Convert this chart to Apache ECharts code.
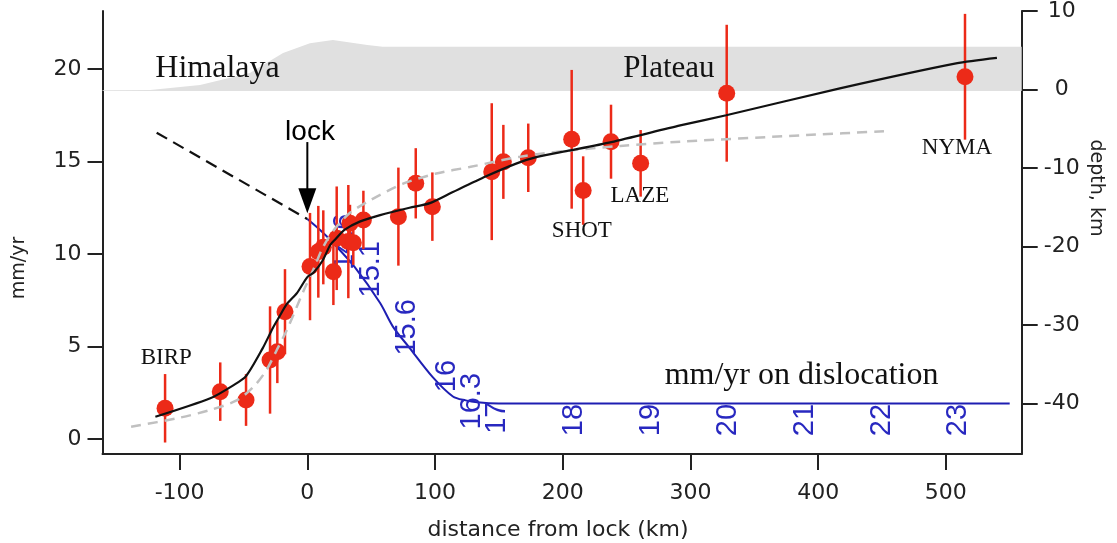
<!DOCTYPE html>
<html><head><meta charset="utf-8">
<script src="https://cdn.jsdelivr.net/npm/echarts@6/dist/echarts.min.js"></script>
<style>html,body{margin:0;padding:0;background:#fff}#c{width:1117px;height:543px}</style>
</head><body><div id="c"></div>
<script>
// ---- tick labels ----
const xTicks = [-100, 0, 100, 200, 300, 400, 500];
const leftTicks = [0, 5, 10, 15, 20];
const rightTicks = [-40, -30, -20, -10, 0, 10];

// ---- GPS velocities (mm/yr) with 1-sigma error ----
const gpsX   = [-111.4, -68.2, -48, -29.2, -23.5, -17.5, 2.1, 8.6, 12.5, 20.4, 23, 32.1, 36, 33.4, 43.9, 71.3, 84.9, 97.9, 144.4, 153.5, 173, 207, 216, 237.8, 261, 328.4, 515];
const gpsV   = [1.66, 2.56, 2.11, 4.27, 4.72, 6.88, 9.32, 10.12, 10.36, 9.04, 10.85, 10.67, 10.61, 11.66, 11.84, 12.02, 13.82, 12.56, 14.45, 14.98, 15.2, 16.2, 13.43, 16.07, 14.9, 18.69, 19.58];
const gpsErr = [1.85, 1.58, 1.4, 2.9, 1.7, 2.3, 2.9, 2.48, 2.0, 1.8, 2.8, 3.06, 1.2, 1.0, 1.58, 2.65, 1.9, 1.85, 3.7, 2.0, 1.85, 3.75, 1.85, 2.0, 1.8, 3.7, 3.4];

// ---- model curves (mm/yr) ----
const fitX = [-119, -76, -58, -48, -35, -27, -22, -16, -8, 0, 5, 12, 18, 22, 29, 41, 57, 80, 96, 114, 140, 164, 180, 206, 238, 292, 328, 417, 508, 540];
const fitV = [1.2, 2.2, 2.9, 3.4, 4.9, 6.0, 6.6, 7.3, 7.9, 8.75, 9.0, 9.65, 10.5, 10.8, 11.3, 11.75, 12.1, 12.5, 12.75, 13.35, 14.2, 14.9, 15.25, 15.6, 16.05, 16.95, 17.5, 18.95, 20.3, 20.6];
const altX = [-138, -102, -76, -55, -42, -32, -24, -16, -3, 5, 12.5, 22, 33, 49, 75, 101, 127, 166, 206, 245, 292, 391, 456];
const altV = [0.66, 1.12, 1.57, 2.1, 2.83, 3.73, 4.8, 5.9, 8.0, 9.2, 10.4, 11.4, 12.2, 12.9, 13.8, 14.35, 14.7, 15.25, 15.6, 15.84, 16.07, 16.43, 16.65];

// ---- fault geometry (depth, km) ----
const lockedX = [-118, 0];
const lockedDepth = [-5.5, -16.5];
const dislocX = [0, 10, 20, 37, 57, 67, 80, 98, 114, 124, 133, 150, 550];
const dislocDepth = [-16.5, -17.9, -19.5, -22.6, -27.2, -30.2, -32.9, -36.6, -39.1, -39.6, -39.85, -40, -40];

// ---- topography (km) ----
const topoX = [-160.4, -123, -84, -45, -19, 2, 20, 47, 59, 559.4];
const topoElev = [-0.1, -0.05, 0.57, 2.1, 4.65, 5.9, 6.3, 5.67, 5.45, 5.45];
const topoBase = -0.2;

// ---- slip-rate labels along dislocation ----
const rateLabels = ['14.6', '15.1', '15.6', '16', '16.3', '17', '18', '19', '20', '21', '22', '23'];
const rateLabelX = [29.8, 49.9, 78.1, 109.4, 129, 148.6, 208.8, 269, 329.3, 389.6, 449.9, 509.4];
const rateLabelDepth = [-19.4, -22.9, -30.3, -36.5, -39.7, -41.8, -42.1, -42.1, -42.1, -42.1, -42.1, -42.1];

// ---- site / annotation labels ----
const siteNames = ['BIRP', 'SHOT', 'LAZE', 'NYMA'];
const siteLabelX = [-110.5, 215, 260.4, 508.7];
const siteLabelV = [4.38, 11.24, 13.14, 15.73];
const regionNames = ['Himalaya', 'Plateau', 'mm/yr on dislocation'];
const regionLabelX = [-70.3, 283.2, 387];
const regionLabelDepth = [2.67, 2.67, -36.4];
const regionFontSize = [32, 31, 32];
const lockLabel = 'lock';
const lockLabelX = 2.1, lockLabelV = 16.6;
const arrowX = 0, arrowFrom = 16.05, arrowTo = 12.2;

const RED = '#ec2a18', BLUE = '#1e1eb2', AXIS = '#222';
const chart = echarts.init(document.getElementById('c'), null, {renderer: 'canvas'});

function textItem(p, txt, font, fill, rot) {
  return {type: 'text', x: p[0], y: p[1], rotation: rot || 0,
    style: {text: txt, font: font, fill: fill, align: 'center', verticalAlign: 'middle',
            textAlign: 'center', textVerticalAlign: 'middle'}};
}

const option = {
  animation: false,
  backgroundColor: '#fff',
  grid: {left: 102.5, right: 95.3, top: 11, bottom: 89, containLabel: false, outerBoundsMode: 'none'},
  xAxis: {
    type: 'value', min: -160.4, max: 559.4,
    axisLine: {show: true, onZero: false, lineStyle: {color: AXIS, width: 2}},
    axisTick: {show: true, length: 16, lineStyle: {color: AXIS, width: 2}, customValues: xTicks},
    axisLabel: {customValues: xTicks, fontSize: 22, fontFamily: 'DejaVu Sans', color: AXIS, margin: 28},
    splitLine: {show: false}
  },
  yAxis: [{
    type: 'value', min: -0.811, max: 23.135, position: 'left',
    axisLine: {show: true, onZero: false, lineStyle: {color: AXIS, width: 2}},
    axisTick: {show: true, length: 15, lineStyle: {color: AXIS, width: 2}, customValues: leftTicks},
    axisLabel: {customValues: leftTicks, fontSize: 22, fontFamily: 'DejaVu Sans', color: AXIS, margin: 21},
    splitLine: {show: false}
  }, {
    type: 'value', min: -46.43, max: 10.0, position: 'right',
    axisLine: {show: true, onZero: false, lineStyle: {color: AXIS, width: 2}},
    axisTick: {show: true, length: 16, lineStyle: {color: AXIS, width: 2}, customValues: rightTicks},
    axisLabel: {customValues: rightTicks, fontSize: 22, fontFamily: 'DejaVu Sans', color: AXIS, margin: 40, align: 'center'},
    splitLine: {show: false}
  }],
  graphic: [
    {type: 'text', x: 19, y: 268, rotation: Math.PI / 2,
     style: {text: 'mm/yr', font: '19px "DejaVu Sans"', fill: AXIS, align: 'center', verticalAlign: 'middle'}},
    {type: 'text', x: 1096, y: 188, rotation: -Math.PI / 2,
     style: {text: 'depth, km', font: '19px "DejaVu Sans"', fill: AXIS, align: 'center', verticalAlign: 'middle'}},
    {type: 'text', x: 558, y: 530,
     style: {text: 'distance from lock (km)', font: '22px "DejaVu Sans"', fill: AXIS, align: 'center', verticalAlign: 'middle'}}
  ],
  series: [
    { // topography band
      type: 'custom', yAxisIndex: 1, z: 1, clip: true, silent: true,
      data: topoX.map((x, i) => [x, topoElev[i]]),
      renderItem: function (params, api) {
        if (params.dataIndex !== 0) return null;
        const pts = topoX.map((x, i) => api.coord([x, topoElev[i]]));
        for (let i = topoX.length - 1; i >= 0; i--) pts.push(api.coord([topoX[i], topoBase]));
        return {type: 'polygon', shape: {points: pts}, style: {fill: '#e0e0e0'}};
      }
    },
    { // dislocation
      type: 'line', yAxisIndex: 1, z: 3, showSymbol: false, smooth: 0.3,
      data: dislocX.map((x, i) => [x, dislocDepth[i]]),
      lineStyle: {color: BLUE, width: 2}
    },
    { // locked part
      type: 'line', yAxisIndex: 1, z: 3, showSymbol: false,
      data: lockedX.map((x, i) => [x, lockedDepth[i]]),
      lineStyle: {color: '#111', width: 2.2, type: [12, 7]}
    },
    { // rate labels
      type: 'custom', yAxisIndex: 1, z: 4, clip: false, silent: true,
      data: rateLabelX.map((x, i) => [x, rateLabelDepth[i]]),
      renderItem: function (params, api) {
        const p = api.coord([api.value(0), api.value(1)]);
        return textItem(p, rateLabels[params.dataIndex], '29px "Liberation Sans"', '#2828c0', Math.PI / 2);
      }
    },
    { // error bars
      type: 'custom', yAxisIndex: 0, z: 5, clip: false, silent: true,
      data: gpsX.map((x, i) => [x, gpsV[i] - gpsErr[i], gpsV[i] + gpsErr[i]]),
      encode: {x: 0, y: [1, 2]},
      renderItem: function (params, api) {
        const lo = api.coord([api.value(0), api.value(1)]);
        const hi = api.coord([api.value(0), api.value(2)]);
        return {type: 'line', shape: {x1: lo[0], y1: lo[1], x2: hi[0], y2: hi[1]},
                style: {stroke: RED, lineWidth: 2.5}};
      }
    },
    { // GPS points
      type: 'scatter', yAxisIndex: 0, z: 6, symbol: 'circle', symbolSize: 17,
      data: gpsX.map((x, i) => [x, gpsV[i]]),
      itemStyle: {color: RED, opacity: 1}
    },
    { // alternative model, grey dashed
      type: 'line', yAxisIndex: 0, z: 7, showSymbol: false, smooth: 0.3,
      data: altX.map((x, i) => [x, altV[i]]),
      lineStyle: {color: '#c0c0c0', width: 2.5, type: [10, 7]}
    },
    { // best-fit model, black
      type: 'line', yAxisIndex: 0, z: 8, showSymbol: false, smooth: 0.25,
      data: fitX.map((x, i) => [x, fitV[i]]),
      lineStyle: {color: '#111', width: 2.2}
    },
    { // lock arrow
      type: 'custom', yAxisIndex: 0, z: 9, clip: false, silent: true,
      data: [[arrowX, arrowFrom, arrowTo]],
      renderItem: function (params, api) {
        const a = api.coord([api.value(0), api.value(1)]);
        const b = api.coord([api.value(0), api.value(2)]);
        const headH = 25, headW = 9;
        return {type: 'group', children: [
          {type: 'line', shape: {x1: a[0], y1: a[1], x2: b[0], y2: b[1] - headH + 2}, style: {stroke: '#000', lineWidth: 2}},
          {type: 'polygon', shape: {points: [[b[0] - headW, b[1] - headH], [b[0] + headW, b[1] - headH], [b[0], b[1]]]}, style: {fill: '#000'}}
        ]};
      }
    },
    { // lock label + site labels
      type: 'custom', yAxisIndex: 0, z: 10, clip: false, silent: true,
      data: siteLabelX.map((x, i) => [x, siteLabelV[i]]).concat([[lockLabelX, lockLabelV]]),
      renderItem: function (params, api) {
        const p = api.coord([api.value(0), api.value(1)]);
        const i = params.dataIndex;
        if (i < siteNames.length) return textItem(p, siteNames[i], '23px "Liberation Serif"', '#111');
        return textItem(p, lockLabel, '28px "Liberation Sans"', '#000');
      }
    },
    { // region labels
      type: 'custom', yAxisIndex: 1, z: 10, clip: false, silent: true,
      data: regionLabelX.map((x, i) => [x, regionLabelDepth[i]]),
      renderItem: function (params, api) {
        const p = api.coord([api.value(0), api.value(1)]);
        const i = params.dataIndex;
        return textItem(p, regionNames[i], regionFontSize[i] + 'px "Liberation Serif"', '#111');
      }
    }
  ]
};
chart.setOption(option);
</script></body></html>
